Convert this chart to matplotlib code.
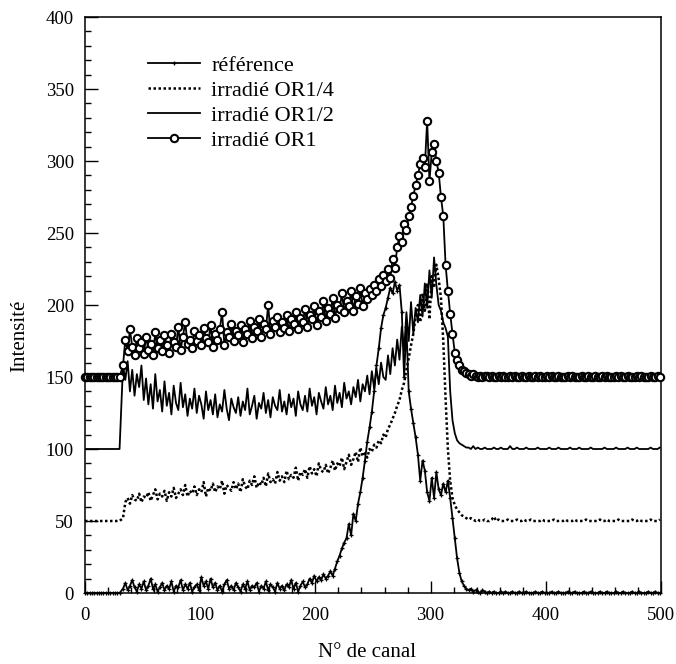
import matplotlib
matplotlib.use("Agg")
import matplotlib.pyplot as plt
from matplotlib.ticker import MultipleLocator

plt.rcParams['font.family'] = ['Liberation Serif', 'DejaVu Serif']

# channel grid: flat start (0-30), measured region (33-331), flat end (333-499)
channels = list(range(0, 31, 2)) + list(range(33, 332, 2)) + list(range(333, 501, 2))

reference = [0, 0, 0, 0, 0, 0, 0, 0, 0, 0, 0, 0, 0, 0, 0, 0,
             3, 7, 2, 5, 9, 4, 1, 6, 3, 8,
             2, 5, 10, 3, 6, 1, 4, 7, 2, 5,
             3, 8, 1, 5, 4, 9, 2, 6, 3, 7,
             1, 4, 6, 2, 11, 5, 8, 3, 10, 4,
             7, 2, 5, 1, 6, 9, 3, 5, 2, 7,
             4, 1, 6, 3, 8, 2, 5, 4, 7, 1,
             5, 3, 8, 2, 6, 4, 1, 7, 3, 5,
             2, 6, 4, 9, 3, 7, 1, 5, 8, 4,
             6, 10, 7, 12, 8, 11, 9, 13, 10, 12,
             15, 12, 17, 22, 26, 31, 35, 38, 48, 40,
             55, 50, 62, 70, 80, 92, 105, 115, 126, 140,
             158, 170, 184, 193, 198, 205, 212, 208, 216, 210,
             214, 195, 150, 185, 140, 128, 118, 108, 96, 78,
             92, 85, 70, 64, 80, 66, 84, 72, 68, 76,
             70, 78, 66, 52, 38, 24, 14, 8, 5, 3,
             2, 3, 1, 2, 1, 0, 2, 1, 0, 1, 0, 1,
             0, 0, 1, 0, 1, 0, 0, 1, 0, 0, 1, 0,
             0, 1, 0, 0, 0, 1, 0, 0, 1, 0, 0, 0,
             1, 0, 0, 1, 0, 0, 0, 1, 0, 0, 1, 0,
             0, 0, 1, 0, 0, 1, 0, 0, 0, 1, 0, 0,
             1, 0, 0, 0, 1, 0, 0, 1, 0, 0, 0, 1,
             0, 0, 1, 0, 0, 0, 1, 0, 0, 1, 0, 0]

or1_4 = [50, 50, 50, 50, 50, 50, 50, 50, 50, 50, 50, 50, 50, 50, 50, 50,
         52, 63, 66, 62, 68, 65, 64, 69, 63, 67,
         66, 70, 64, 68, 72, 65, 69, 67, 71, 64,
         70, 67, 73, 66, 69, 72, 68, 75, 67, 71,
         69, 74, 68, 72, 70, 77, 67, 73, 71, 76,
         70, 74, 72, 78, 69, 75, 73, 71, 77, 72,
         76, 70, 79, 74, 72, 78, 75, 81, 73, 77,
         75, 80, 74, 83, 77, 79, 76, 84, 78, 81,
         77, 85, 79, 82, 80, 87, 78, 84, 82, 86,
         80, 88, 83, 86, 81, 90, 85, 84, 89, 83,
         87, 92, 85, 90, 88, 94, 86, 91, 96, 89,
         93, 98, 91, 101, 95, 97, 94, 100, 98, 103,
         101, 106, 104, 110, 108, 114, 117, 121, 125, 130,
         134, 141, 146, 155, 163, 172, 180, 192, 200, 188,
         208, 196, 215, 190, 220, 212, 228, 218, 205, 175,
         135, 100, 78, 66, 61, 58, 56, 54, 53, 52,
         51, 52, 51, 50, 51, 50, 50, 51, 50, 50, 51, 53,
         50, 51, 50, 50, 50, 51, 50, 50, 50, 51, 50, 50,
         51, 50, 50, 51, 50, 50, 50, 50, 51, 50, 50, 50,
         50, 51, 50, 50, 50, 50, 51, 50, 50, 50, 51, 50,
         50, 50, 50, 51, 50, 50, 50, 50, 50, 51, 50, 50,
         51, 50, 50, 50, 50, 51, 50, 50, 50, 50, 50, 51,
         50, 50, 51, 50, 50, 50, 50, 51, 50, 50, 50, 51]

or1_2 = [100, 100, 100, 100, 100, 100, 100, 100, 100, 100, 100, 100, 100, 100, 100, 100,
         158, 148, 161, 140, 155, 137, 152, 143, 158, 134,
         149, 131, 145, 128, 152, 133, 141, 126, 147, 130,
         139, 124, 144, 132, 127, 146, 129, 138, 123, 135,
         128, 142, 125, 137, 131, 121, 140, 127, 134, 124,
         138, 122, 131, 126, 141, 128, 120, 135, 129, 125,
         136, 123, 133, 127, 142, 124, 130, 137, 121, 132,
         128, 139, 125, 134, 122, 136, 130, 127, 141, 126,
         133, 124, 138, 129, 135, 123, 140, 131, 127, 137,
         126, 142, 130, 136, 124, 139, 133, 128, 143, 131,
         137, 127, 144, 132, 139, 129, 146, 135, 140, 131,
         143, 136, 148, 133, 145, 140, 151, 138, 154, 142,
         156, 145, 160, 150, 148, 165, 152, 170, 158, 176,
         162, 185, 168, 195, 175, 202, 180, 198, 188, 207,
         192, 215, 198, 224, 205, 233, 214, 200, 196, 188,
         184, 178, 140, 120, 111, 106, 104, 103, 102, 101,
         101, 100, 102, 100, 101, 100, 100, 101, 100, 100, 100, 101,
         100, 100, 101, 100, 100, 100, 102, 100, 100, 101, 100, 100,
         100, 101, 100, 100, 100, 100, 101, 100, 100, 100, 100, 101,
         100, 100, 100, 101, 100, 100, 100, 100, 101, 100, 100, 100,
         101, 100, 100, 100, 100, 101, 100, 100, 100, 100, 100, 101,
         100, 100, 100, 100, 101, 100, 100, 100, 100, 101, 100, 100,
         100, 101, 100, 100, 100, 100, 100, 101, 100, 100, 100, 101]

or1 = [150, 150, 150, 150, 150, 150, 150, 150, 150, 150, 150, 150, 150, 150, 150, 150,
       158, 176, 168, 183, 171, 165, 177, 170, 174, 166,
       178, 169, 173, 165, 181, 170, 176, 168, 179, 172,
       167, 180, 174, 171, 185, 169, 178, 188, 173, 176,
       170, 182, 175, 179, 172, 184, 177, 174, 186, 171,
       180, 176, 183, 195, 172, 181, 178, 187, 175, 182,
       179, 186, 174, 183, 180, 189, 177, 185, 182, 190,
       178, 187, 183, 200, 180, 189, 185, 192, 181, 188,
       184, 193, 182, 190, 187, 195, 183, 191, 188, 197,
       185, 193, 190, 199, 186, 196, 192, 203, 189, 198,
       194, 205, 191, 200, 197, 208, 195, 203, 199, 210,
       196, 206, 201, 212, 199, 208, 204, 211, 207, 214,
       210, 218, 213, 221, 217, 225, 219, 232, 226, 240,
       248, 244, 256, 252, 262, 268, 276, 283, 290, 298,
       302, 296, 328, 286, 306, 312, 300, 292, 275, 262,
       228, 210, 194, 180, 167, 162, 158, 155, 154, 153,
       152, 151, 152, 151, 150, 151, 150, 151, 151, 150, 151, 150,
       150, 151, 150, 151, 150, 150, 151, 150, 151, 150, 150, 151,
       150, 150, 151, 150, 150, 151, 150, 151, 150, 150, 151, 150,
       151, 150, 150, 151, 150, 150, 150, 151, 150, 151, 150, 150,
       150, 151, 150, 150, 151, 150, 150, 151, 150, 150, 151, 150,
       151, 150, 150, 150, 151, 150, 151, 150, 150, 151, 150, 150,
       150, 151, 150, 151, 150, 150, 150, 151, 150, 150, 151, 150]

for s in (reference, or1_4, or1_2, or1):
    assert len(s) == len(channels), (len(s), len(channels))

fig = plt.figure(figsize=(6.76, 6.64), dpi=100)
ax = fig.add_axes([85 / 676, 71 / 664, 576 / 676, 576 / 664])

ax.plot(channels, reference, color='black', lw=1.3, marker='+', ms=3.5, mew=0.9,
        label='référence', clip_on=False, zorder=3)
ax.plot(channels, or1_4, color='black', lw=1.8, linestyle=(0, (1, 1)),
        label='irradié OR1/4', zorder=3)
ax.plot(channels, or1_2, color='black', lw=1.3, label='irradié OR1/2', zorder=3)
ax.plot(channels, or1, color='black', lw=1.3, marker='o', ms=5.3, mfc='white', mec='black',
        mew=1.5, label='irradié OR1', clip_on=False, zorder=4)

ax.set_xlim(0, 500)
ax.set_ylim(0, 400)
ax.xaxis.set_major_locator(MultipleLocator(100))
ax.xaxis.set_minor_locator(MultipleLocator(20))
ax.yaxis.set_major_locator(MultipleLocator(50))
ax.yaxis.set_minor_locator(MultipleLocator(10))
ax.tick_params(which='both', direction='in', top=False, right=False, width=1.0,
               labelsize=13.5)
ax.tick_params(axis='x', pad=10)
ax.tick_params(axis='y', pad=8)
ax.tick_params(which='major', length=9)
ax.tick_params(which='minor', length=4.5)
for sp in ax.spines.values():
    sp.set_linewidth(1.1)

ax.set_xlabel('N° de canal', fontsize=15)
ax.set_ylabel('Intensité', fontsize=15)
ax.xaxis.set_label_coords(0.49, -0.086)
ax.yaxis.set_label_coords(-0.096, 0.446)

ax.legend(loc='upper left', bbox_to_anchor=(0.109, 0.933), frameon=False, fontsize=16,
          handlelength=2.35, handletextpad=0.5, labelspacing=0.2, numpoints=1,
          borderpad=0, borderaxespad=0)

fig.savefig('out.png', dpi=100)
